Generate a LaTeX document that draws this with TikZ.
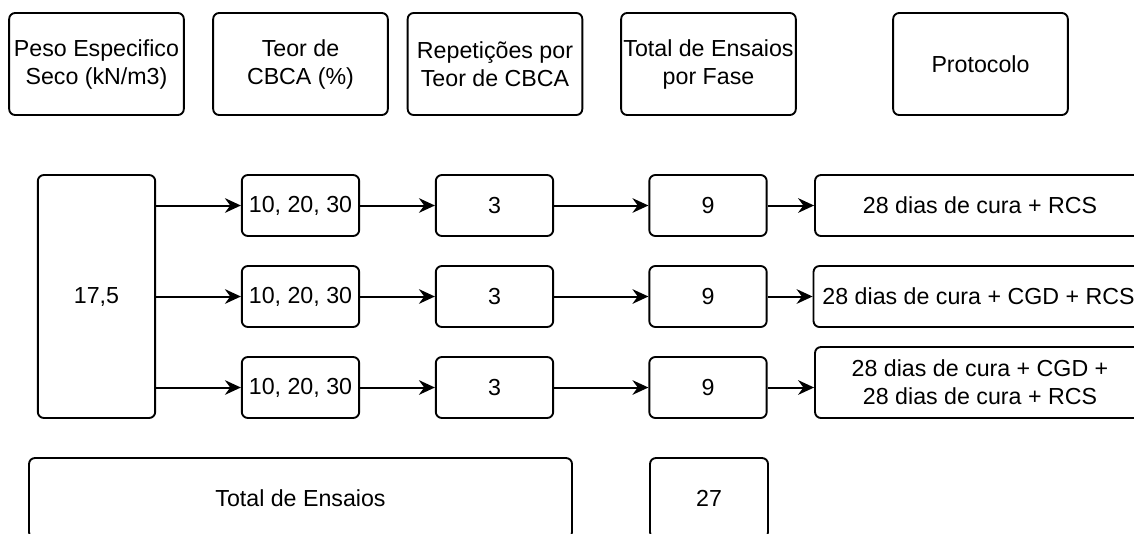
\documentclass[tikz,border=0pt]{standalone}
\usepackage{fontspec}
\setmainfont{Liberation Sans}
\usetikzlibrary{arrows.meta}

\begin{document}
\begin{tikzpicture}[x=0.75pt,y=-0.75pt,
  every node/.style={font=\fontsize{17.4}{21}\selectfont},
  box/.style={draw,rounded corners=4.5pt,line width=1.4pt,align=center,inner sep=0pt},
  header/.style={box,minimum width=131pt,minimum height=76.5pt},
  cell/.style={box,minimum width=88pt,minimum height=45.75pt},
  proto/.style={box,minimum width=247.5pt,minimum height=45.75pt},
  link/.style={-{Stealth[length=12pt,width=11pt,inset=4pt]},line width=1.5pt}]

  \clip (0,0) rectangle (1134,533);

  % cabecalho
  \node [header] (hpeso) at (96.5,64) {Peso Especifico\\Seco (kN/m3)};
  \node [header] (hteor) at (300.5,64) {Teor de\\CBCA (\%)};
  \node [header] (hrep) at (495,64) {Repetições por\\Teor de CBCA};
  \node [header] (htot) at (708.5,64) {Total de Ensaios\\por Fase};
  \node [header] (hprot) at (980.5,64) {Protocolo};

  % fases
  \node [box,minimum width=88pt,minimum height=182.25pt] (peso) at (96.5,296.5) {17,5};
  \foreach \r/\y in {1/205.5,2/296.5,3/387.5} {
    \node [cell] (teor\r) at (300.5,\y) {10, 20, 30};
    \node [cell] (rep\r) at (494.5,\y) {3};
    \node [cell] (fase\r) at (708,\y) {9};
    \draw [link] (peso.east |- teor\r.west) -- (teor\r.west);
    \draw [link] (teor\r) -- (rep\r);
    \draw [link] (rep\r) -- (fase\r);
  }

  \node [proto] (prot1) at (980,205.5) {28 dias de cura + RCS};
  \node [proto] (prot2) at (978.5,296.5) {28 dias de cura + CGD + RCS};
  \node [proto,minimum height=53.25pt] (prot3) at (980,382.5) {28 dias de cura + CGD +\\28 dias de cura + RCS};
  \draw [link] (fase1) -- (prot1);
  \draw [link] (fase2) -- (prot2);
  \draw [link] (fase3.east) -- (fase3.east -| prot3.west);

  % total
  \node [box,minimum width=407.25pt,minimum height=60pt] (total) at (300.5,498) {Total de Ensaios};
  \node [box,minimum width=88.5pt,minimum height=60pt] (soma) at (709,498) {27};

\end{tikzpicture}
\end{document}
